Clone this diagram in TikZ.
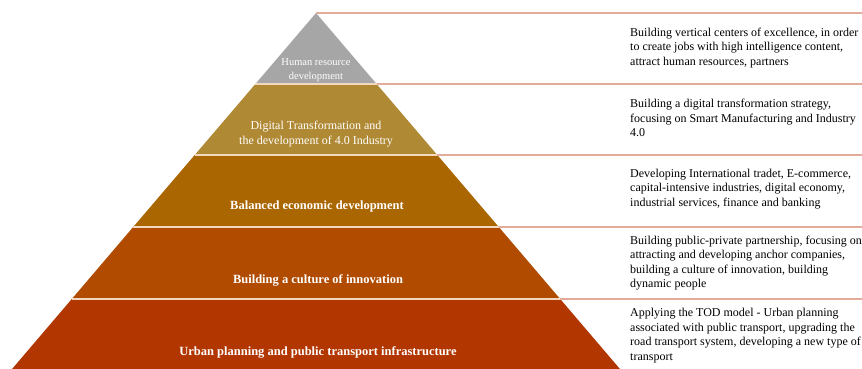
\documentclass[tikz,border=0pt]{standalone}
\usepackage{fontspec}
\setmainfont{Liberation Serif}
\begin{document}
\begin{tikzpicture}[x=1pt,y=-1pt,
  layerline/.style={draw=sepcol,line width=1.6pt},
  outline/.style={draw=rulecol,line width=1.3pt},
  desc/.style={anchor=west,align=left,inner sep=0pt,text=black,font=\fontsize{12}{14.6}\selectfont},
  lab/.style={align=center,inner sep=0pt,text=white},
  biglab/.style={lab,font=\fontsize{12.5}{15}\bfseries\selectfont},
]
\definecolor{c1}{RGB}{166,166,166}
\definecolor{c2}{RGB}{176,137,52}
\definecolor{c3}{RGB}{170,102,0}
\definecolor{c4}{RGB}{176,75,0}
\definecolor{c5}{RGB}{178,54,0}
\definecolor{sepcol}{RGB}{242,216,190}
\definecolor{rulecol}{RGB}{226,172,155}
\useasboundingbox (0,0) rectangle (862,369);
\fill[white] (0,0) rectangle (862,369);
% pyramid layers
\coordinate (A) at (316,13);
\coordinate (L1) at (255.4,84);  \coordinate (R1) at (376.6,84);
\coordinate (L2) at (194.7,155); \coordinate (R2) at (437.3,155);
\coordinate (L3) at (133.2,227); \coordinate (R3) at (498.8,227);
\coordinate (L4) at (71.8,299);  \coordinate (R4) at (560.2,299);
\coordinate (L5) at (11.2,370);  \coordinate (R5) at (620.8,370);
\fill[c1] (A) -- (R1) -- (L1) -- cycle;
\fill[c2] (L1) -- (R1) -- (R2) -- (L2) -- cycle;
\fill[c3] (L2) -- (R2) -- (R3) -- (L3) -- cycle;
\fill[c4] (L3) -- (R3) -- (R4) -- (L4) -- cycle;
\fill[c5] (L4) -- (R4) -- (R5) -- (L5) -- cycle;
% separators inside pyramid
\draw[layerline] (L1) -- (R1);
\draw[layerline] (L2) -- (R2);
\draw[layerline] (L3) -- (R3);
\draw[layerline] (L4) -- (R4);
% rules to the right
\coordinate (E0) at (862,13);
\coordinate (E1) at (862,84);
\coordinate (E2) at (862,155);
\coordinate (E3) at (862,227);
\coordinate (E4) at (862,299);
\draw[outline] (A) -- (E0);
\draw[outline] (R1) -- (E1);
\draw[outline] (R2) -- (E2);
\draw[outline] (R3) -- (E3);
\draw[outline] (R4) -- (E4);
% pyramid labels
\node[lab,font=\fontsize{10.5}{14}\selectfont] (p1) at (316,70) {Human resource\\development};
\node[lab,font=\fontsize{12}{15}\selectfont] (p2) at (316,134.5) {Digital Transformation and\\the development of 4.0 Industry};
\node[biglab] (p3) at (317,206) {Balanced economic development};
\node[biglab] (p4) at (318,280) {Building a culture of innovation};
\node[biglab] (p5) at (318,352) {Urban planning and public transport infrastructure};
% descriptions
\node[desc] (d1) at (630,48) {Building vertical centers of excellence, in order\\to create jobs with high intelligence content,\\attract human resources, partners};
\node[desc] (d2) at (630,118) {Building a digital transformation strategy,\\focusing on Smart Manufacturing and Industry\\4.0};
\node[desc] (d3) at (630,189) {Developing International tradet, E-commerce,\\capital-intensive industries, digital economy,\\industrial services, finance and banking};
\node[desc] (d4) at (630,263) {Building public-private partnership, focusing on\\attracting and developing anchor companies,\\building a culture of innovation, building\\dynamic people};
\node[desc] (d5) at (630,335.5) {Applying the TOD model - Urban planning\\associated with public transport, upgrading the\\road transport system, developing a new type of\\transport};
\end{tikzpicture}
\end{document}
